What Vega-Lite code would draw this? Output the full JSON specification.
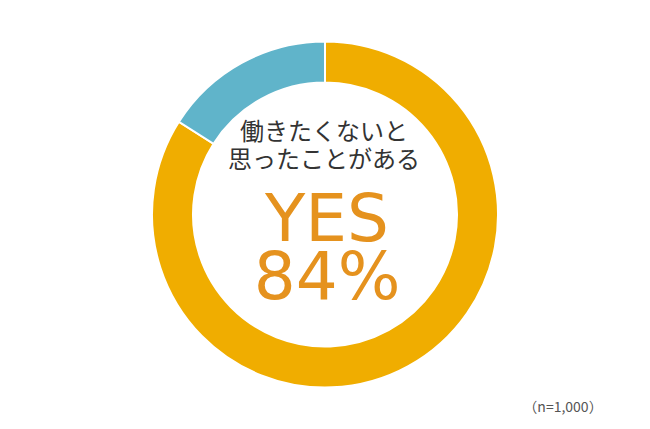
{
  "$schema": "https://vega.github.io/schema/vega-lite/v6.json",
  "width": 650,
  "height": 429,
  "autosize": {"type": "fit", "contains": "padding"},
  "padding": 0,
  "background": "white",
  "config": {"view": {"stroke": "#d4d4d4", "strokeWidth": 1}},
  "datasets": {
    "answers": [
      {"answer": "YES", "order": 1, "share": 84},
      {"answer": "NO", "order": 2, "share": 16}
    ],
    "labels": [
      {"label": "働きたくないと\n思ったことがある", "kind": "question"},
      {"label": "YES\n84%", "kind": "big"},
      {"label": "（n=1,000）", "kind": "note"}
    ]
  },
  "layer": [
    {
      "data": {"name": "answers"},
      "mark": {"type": "arc", "radius": 173, "radius2": 132, "stroke": "white", "strokeWidth": 2},
      "encoding": {
        "theta": {"field": "share", "type": "quantitative", "stack": true},
        "order": {"field": "order"},
        "color": {
          "field": "answer",
          "type": "nominal",
          "scale": {"domain": ["YES", "NO"], "range": ["#F0AD00", "#60B4CA"]},
          "legend": null
        }
      }
    },
    {
      "data": {"name": "labels"},
      "transform": [{"filter": "datum.kind == 'question'"}],
      "mark": {"type": "text", "font": "Noto Sans CJK JP", "fontSize": 24, "color": "#333333", "baseline": "alphabetic", "lineBreak": "\n", "lineHeight": 28, "dy": -75, "dx": -1},
      "encoding": {"text": {"field": "label"}}
    },
    {
      "data": {"name": "labels"},
      "transform": [{"filter": "datum.kind == 'big'"}],
      "mark": {"type": "text", "font": "DejaVu Sans", "fontSize": 66, "color": "#E5921E", "baseline": "alphabetic", "lineBreak": "\n", "lineHeight": 58, "dy": 26, "dx": 2},
      "encoding": {"text": {"field": "label"}}
    },
    {
      "data": {"name": "labels"},
      "transform": [{"filter": "datum.kind == 'note'"}],
      "mark": {"type": "text", "font": "Noto Sans CJK JP", "fontSize": 14, "color": "#555555", "baseline": "middle", "dy": 193, "dx": 238},
      "encoding": {"text": {"field": "label"}}
    }
  ]
}
